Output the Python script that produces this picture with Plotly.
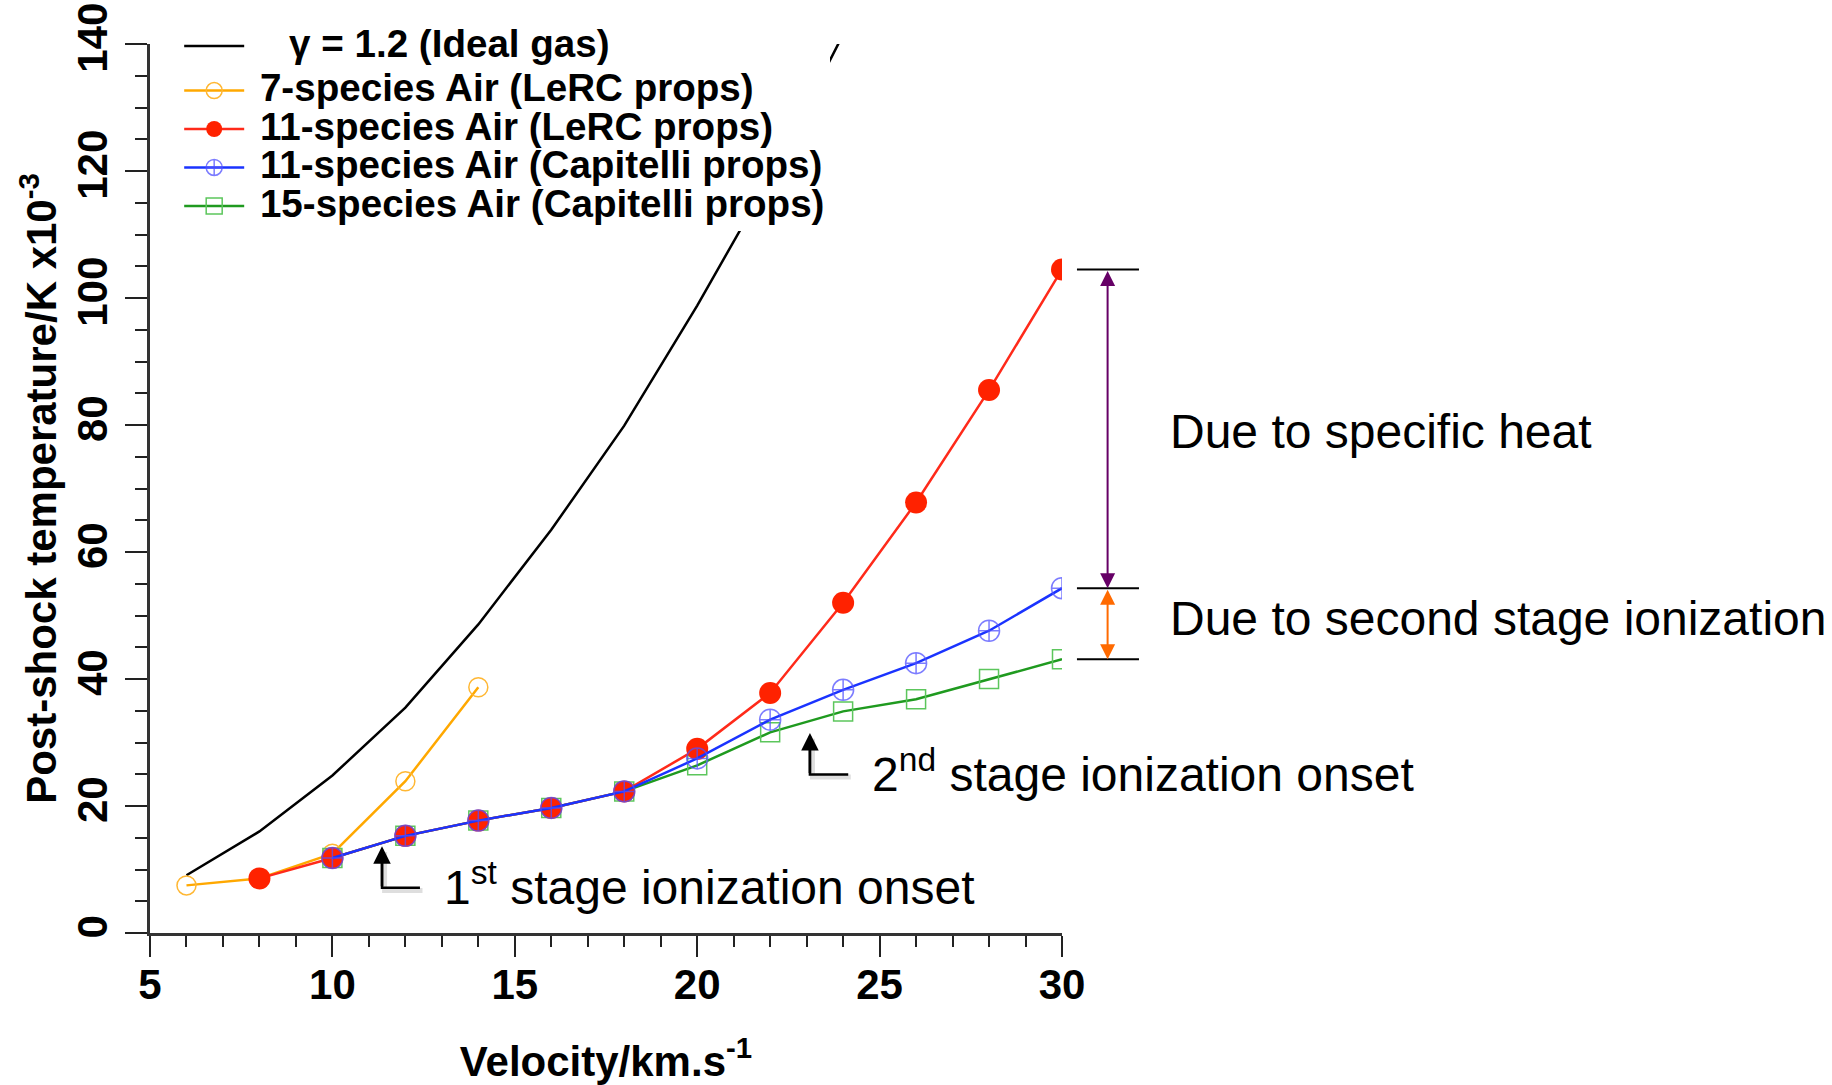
import plotly.graph_objects as go

# Post-shock temperature (K x 1e-3) versus shock velocity (km/s)
velocity_ideal = [6, 8, 10, 12, 14, 16, 18, 20, 22, 24]
temp_ideal = [9.1, 16.0, 24.8, 35.5, 48.6, 63.5, 79.9, 98.8, 119.0, 141.5]

velocity_7sp = [6, 8, 10, 12, 14]
temp_7sp_lerc = [7.5, 8.6, 12.5, 23.9, 38.7]

velocity_11sp_lerc = [8, 10, 12, 14, 16, 18, 20, 22, 24, 26, 28, 30]
temp_11sp_lerc = [8.6, 11.8, 15.3, 17.7, 19.7, 22.3, 29.0, 37.8, 52.0, 67.8, 85.5, 104.5]

velocity_capitelli = [10, 12, 14, 16, 18, 20, 22, 24, 26, 28, 30]
temp_11sp_cap = [11.8, 15.3, 17.7, 19.7, 22.3, 27.5, 33.6, 38.3, 42.5, 47.6, 54.3]
temp_15sp_cap = [11.8, 15.3, 17.7, 19.7, 22.3, 26.4, 31.6, 34.9, 36.8, 40.0, 43.1]

legend_labels = [
    "\u03b3 = 1.2 (Ideal gas)",
    "7-species Air (LeRC props)",
    "11-species Air (LeRC props)",
    "11-species Air (Capitelli props)",
    "15-species Air (Capitelli props)",
]

x_ticks = [5, 10, 15, 20, 25, 30]
y_ticks = [0, 20, 40, 60, 80, 100, 120, 140]

FONT = "Liberation Sans, Arial, Helvetica, sans-serif"
X_RANGE = [5, 30]
Y_RANGE = [0, 140]


def big(label, pad="&nbsp;"):
    return f'<span style="font-size:38.6px">{pad}{label}</span>'


def xpaper(v):
    # position on the x axis expressed as a paper fraction
    return (v - X_RANGE[0]) / (X_RANGE[1] - X_RANGE[0])


fig = go.Figure()

fig.add_trace(go.Scatter(
    x=velocity_ideal, y=temp_ideal, mode="lines",
    name=big(legend_labels[0], pad="&nbsp;&nbsp;&nbsp;\u2009"),
    line=dict(color="black", width=2.5), legendrank=1, legendgroup="ideal",
))
fig.add_trace(go.Scatter(
    x=velocity_7sp, y=temp_7sp_lerc, mode="lines+markers", name=big(legend_labels[1]),
    line=dict(color="#ffa800", width=2.5),
    marker=dict(symbol="circle-open", size=19, color="#ffb733", line=dict(width=1.5)),
    legendrank=2, legendgroup="air",
))
fig.add_trace(go.Scatter(
    x=velocity_capitelli, y=temp_15sp_cap, mode="lines+markers", name=big(legend_labels[4]),
    line=dict(color="#1f9a1f", width=2.5),
    marker=dict(symbol="square-open", size=19, color="#5cc65c", line=dict(width=1.5)),
    legendrank=5, legendgroup="air",
))
fig.add_trace(go.Scatter(
    x=velocity_11sp_lerc, y=temp_11sp_lerc, mode="lines+markers", name=big(legend_labels[2]),
    line=dict(color="#ff2a1a", width=2.5),
    marker=dict(symbol="circle", size=22, color="#ff2200"),
    legendrank=3, legendgroup="air",
))
fig.add_trace(go.Scatter(
    x=velocity_capitelli, y=temp_11sp_cap, mode="lines+markers", name=big(legend_labels[3]),
    line=dict(color="#1a33ff", width=2.5),
    marker=dict(symbol="circle-cross-open", size=21, color="rgba(80,80,255,0.75)", line=dict(width=1.5)),
    legendrank=4, legendgroup="air",
))

shapes = []
annotations = []

# reference ticks at the end values at 30 km/s
t_lerc_end = temp_11sp_lerc[-1]
t_cap11_end = temp_11sp_cap[-1]
t_cap15_end = temp_15sp_cap[-1]
for yv in (t_lerc_end, t_cap11_end, t_cap15_end):
    shapes.append(dict(type="line", xref="paper", yref="y", x0=xpaper(30.41), x1=xpaper(32.11),
                       y0=yv, y1=yv, line=dict(color="black", width=2)))

arrow_x = xpaper(31.25)
annotations.append(dict(xref="paper", yref="y", x=arrow_x, y=t_cap11_end, axref="pixel", ayref="y",
                        ax=0, ay=t_lerc_end, text="", showarrow=True, arrowhead=2, arrowside="end+start",
                        arrowsize=1.5, arrowwidth=2, arrowcolor="#660066", standoff=0, startstandoff=0))
annotations.append(dict(xref="paper", yref="y", x=arrow_x, y=t_cap15_end, axref="pixel", ayref="y",
                        ax=0, ay=t_cap11_end, text="", showarrow=True, arrowhead=2, arrowside="end+start",
                        arrowsize=1.5, arrowwidth=2, arrowcolor="#ff6a00", standoff=0, startstandoff=0))

annotations.append(dict(xref="paper", yref="y", x=xpaper(32.9), y=79.0, xanchor="left", yanchor="middle",
                        text="Due to specific heat", showarrow=False,
                        font=dict(family=FONT, size=48, color="black")))
annotations.append(dict(xref="paper", yref="y", x=xpaper(32.9), y=49.5, xanchor="left", yanchor="middle",
                        text="Due to second stage ionization", showarrow=False,
                        font=dict(family=FONT, size=48, color="black")))

# L-shaped pointers marking the ionization onsets
onsets = [
    (11.36, 13.66, 7.11, 12.40, 13.0, "1<sup>st</sup> stage ionization onset"),
    (23.09, 31.5, 24.95, 24.14, 24.74, "2<sup>nd</sup> stage ionization onset"),
]
for xv, ytip, ycorner, xend, xtext, label in onsets:
    # soft shadow
    shapes.append(dict(type="path", xref="x", yref="y",
                       path=f"M {xv+0.07},{ytip-0.9} L {xv+0.07},{ycorner-0.4} L {xend+0.07},{ycorner-0.4}",
                       line=dict(color="rgba(0,0,0,0.13)", width=5)))
    shapes.append(dict(type="path", xref="x", yref="y",
                       path=f"M {xv},{ytip-0.5} L {xv},{ycorner} L {xend},{ycorner}",
                       line=dict(color="black", width=2.5)))
    annotations.append(dict(xref="x", yref="y", x=xv, y=ytip, axref="x", ayref="y", ax=xv, ay=ycorner,
                            text="", showarrow=True, arrowhead=2, arrowsize=1.4, arrowwidth=2.5,
                            arrowcolor="black", standoff=0))
    annotations.append(dict(xref="x", yref="y", x=xtext, y=ycorner + 0.6, xanchor="left", yanchor="middle",
                            text=label, showarrow=False, font=dict(family=FONT, size=48, color="black")))

fig.update_layout(
    width=1832, height=1085,
    margin=dict(l=150, r=770, t=44, b=152, autoexpand=False),
    paper_bgcolor="white", plot_bgcolor="white",
    font=dict(family=FONT, color="black"),
    showlegend=True,
    legend=dict(
        x=0.032, y=1.025, xanchor="left", yanchor="top",
        bgcolor="white", borderwidth=0,
        font=dict(family=FONT, size=27.3, color="black", weight="bold"),
        itemwidth=60, traceorder="grouped", tracegroupgap=6,
    ),
    shapes=shapes,
    annotations=annotations,
)

fig.update_xaxes(
    range=X_RANGE, tickvals=x_ticks, ticks="outside", ticklen=21, tickwidth=2, tickcolor="#222",
    showline=True, linewidth=2.5, linecolor="#333", showgrid=False, zeroline=False,
    tickfont=dict(family=FONT, size=42, color="black", weight="bold"),
    ticklabelstandoff=-8,
    minor=dict(dtick=1, ticks="outside", ticklen=11, tickwidth=2, tickcolor="#222", showgrid=False),
    title=dict(text="Velocity/km.s<sup>-1</sup>", standoff=43,
               font=dict(family=FONT, size=42, color="black", weight="bold")),
)
fig.update_yaxes(
    range=Y_RANGE, tickvals=y_ticks, ticks="outside", ticklen=22, tickwidth=2, tickcolor="#222",
    showline=True, linewidth=2.5, linecolor="#333", showgrid=False, zeroline=False,
    tickangle=-90,
    tickfont=dict(family=FONT, size=42, color="black", weight="bold"),
    ticklabelstandoff=1,
    minor=dict(dtick=5, ticks="outside", ticklen=12, tickwidth=2, tickcolor="#222", showgrid=False),
    title=dict(text="Post-shock temperature/K x10<sup>-3</sup>", standoff=0,
               font=dict(family=FONT, size=42, color="black", weight="bold")),
)

fig.write_html("out.html")
